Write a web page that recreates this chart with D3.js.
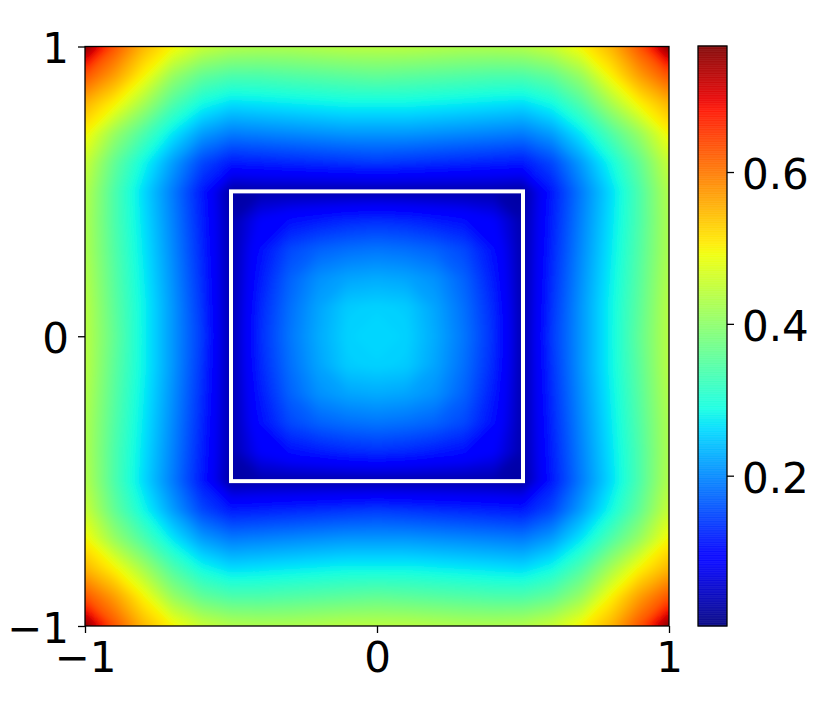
<!DOCTYPE html>
<html>
<head>
<meta charset="utf-8">
<script src="https://cdn.jsdelivr.net/npm/d3@7"></script>
<style>
  body { margin: 0; background: #fff; }
  text { font-family: "DejaVu Sans", sans-serif; }
</style>
</head>
<body>
<script>
"use strict";

// |x| and |y| sample positions of the read-off grid (the field is mirrored into all four quadrants)
const gridAbs = [0, 0.1, 0.2, 0.3, 0.4, 0.5, 0.6, 0.7, 0.8, 0.9, 1];

// field values, rows = |y|, columns = |x|
const quadrant = [
    [0.26, 0.255, 0.225, 0.185, 0.13, 0.03, 0.14, 0.21, 0.28, 0.36, 0.44],
    [0.255, 0.25, 0.22, 0.18, 0.125, 0.03, 0.135, 0.21, 0.28, 0.355, 0.44],
    [0.225, 0.22, 0.205, 0.17, 0.115, 0.03, 0.13, 0.205, 0.275, 0.35, 0.435],
    [0.185, 0.18, 0.17, 0.15, 0.105, 0.03, 0.125, 0.20, 0.27, 0.345, 0.43],
    [0.13, 0.125, 0.115, 0.105, 0.085, 0.03, 0.12, 0.195, 0.265, 0.34, 0.43],
    [0.03, 0.03, 0.03, 0.03, 0.03, 0.025, 0.115, 0.19, 0.26, 0.34, 0.435],
    [0.14, 0.135, 0.13, 0.125, 0.12, 0.115, 0.15, 0.215, 0.285, 0.36, 0.455],
    [0.21, 0.21, 0.205, 0.20, 0.195, 0.19, 0.215, 0.27, 0.34, 0.41, 0.50],
    [0.28, 0.28, 0.275, 0.27, 0.265, 0.26, 0.285, 0.34, 0.42, 0.50, 0.55],
    [0.36, 0.355, 0.35, 0.345, 0.34, 0.34, 0.36, 0.41, 0.50, 0.57, 0.63],
    [0.44, 0.44, 0.435, 0.43, 0.43, 0.435, 0.455, 0.50, 0.55, 0.63, 0.77]
];

const xTicks = [-1, 0, 1];
const yTicks = [-1, 0, 1];
const colorbarTicks = [0.2, 0.4, 0.6];
const colorRange = [0.002, 0.766];
const innerSquare = [-0.5, 0.5];

(function(){
    const size = { width: 830, height: 711 };
    const plot = { left: 85, right: 669, top: 46.5, bottom: 626 };
    const cbar = { left: 698, right: 727, top: 46, bottom: 626 };
    const fontSize = 42;
    const tickLen = 7;

    const svg = d3.select('body').append('svg')
        .attr('width', size.width)
        .attr('height', size.height);

    // jet colormap, channel by channel
    const jetR = d3.scaleLinear().domain([0, 0.35, 0.66, 0.89, 1]).range([0, 0, 1, 1, 0.5]).clamp(true);
    const jetG = d3.scaleLinear().domain([0, 0.125, 0.375, 0.64, 0.91, 1]).range([0, 0, 1, 1, 0, 0]).clamp(true);
    const jetB = d3.scaleLinear().domain([0, 0.11, 0.34, 0.65, 1]).range([0.5, 1, 1, 0, 0]).clamp(true);
    const norm = d3.scaleLinear().domain(colorRange).range([0, 1]).clamp(true);
    const jet = function(v) {
        const t = norm(v);
        return d3.rgb(255 * jetR(t), 255 * jetG(t), 255 * jetB(t)).toString();
    };

    const x = d3.scaleLinear().domain([-1, 1]).range([plot.left, plot.right]);
    const y = d3.scaleLinear().domain([-1, 1]).range([plot.bottom, plot.top]);

    // full grid from -1 to 1, top row first
    const axisVals = gridAbs.slice(1).reverse().map((v) => -v).concat(gridAbs);
    const n = axisVals.length;
    const values = [];
    for (let j = 0; j < n; j++) {
        const yv = axisVals[n - 1 - j];
        for (let i = 0; i < n; i++) {
            const xv = axisVals[i];
            values.push(quadrant[gridAbs.indexOf(Math.abs(yv))][gridAbs.indexOf(Math.abs(xv))]);
        }
    }

    // contour grid coords -> pixels (grid value i sits at i + 0.5)
    const gx = d3.scaleLinear().domain([0.5, n - 0.5]).range([x(-1), x(1)]);
    const gy = d3.scaleLinear().domain([0.5, n - 0.5]).range([y(1), y(-1)]);
    const path = d3.geoPath(d3.geoTransform({
        point: function(px, py) { this.stream.point(gx(px), gy(py)); }
    }));

    const step = 0.004;
    const thresholds = d3.range(0, 0.78, step);
    const contours = d3.contours().size([n, n]).thresholds(thresholds)(values);

    const defs = svg.append('defs');
    defs.append('clipPath').attr('id', 'plotClip')
        .append('rect')
        .attr('x', plot.left).attr('y', plot.top)
        .attr('width', plot.right - plot.left).attr('height', plot.bottom - plot.top);
    defs.append('filter').attr('id', 'soften')
        .attr('filterUnits', 'userSpaceOnUse')
        .attr('x', 0).attr('y', 0).attr('width', size.width).attr('height', size.height)
        .append('feGaussianBlur').attr('stdDeviation', 3);

    svg.append('g')
        .attr('clip-path', 'url(#plotClip)')
        .append('g')
        .attr('filter', 'url(#soften)')
        .selectAll('path')
        .data(contours)
        .enter()
        .append('path')
            .attr('d', path)
            .attr('fill', (d) => jet(d.value + step / 2))
            .attr('stroke', (d) => jet(d.value + step / 2))
            .attr('stroke-width', 0.6);

    // white square
    svg.append('rect')
        .attr('x', x(innerSquare[0]))
        .attr('y', y(innerSquare[1]))
        .attr('width', x(innerSquare[1]) - x(innerSquare[0]))
        .attr('height', y(innerSquare[0]) - y(innerSquare[1]))
        .attr('fill', 'none')
        .attr('stroke', '#fff')
        .attr('stroke-width', 4);

    // axes
    const minusFmt = (d) => d < 0 ? '\u2212' + Math.abs(d) : String(d);
    const xAxis = d3.axisBottom(x).tickValues(xTicks).tickSize(tickLen).tickPadding(9).tickFormat(minusFmt);
    const yAxis = d3.axisLeft(y).tickValues(yTicks).tickSize(tickLen).tickPadding(9).tickFormat(minusFmt);

    const gX = svg.append('g').attr('transform', `translate(0,${plot.bottom})`).call(xAxis);
    const gY = svg.append('g').attr('transform', `translate(${plot.left},0)`).call(yAxis);
    [gX, gY].forEach((g) => {
        g.select('.domain').remove();
        g.selectAll('.tick line').attr('stroke', '#000').attr('stroke-width', 1.3);
        g.selectAll('.tick text').attr('fill', '#000')
            .style('font-family', '"DejaVu Sans", sans-serif')
            .style('font-size', fontSize + 'px');
    });
    gY.selectAll('.tick text').attr('dy', '0.39em');

    svg.append('rect')
        .attr('x', plot.left).attr('y', plot.top)
        .attr('width', plot.right - plot.left).attr('height', plot.bottom - plot.top)
        .attr('fill', 'none').attr('stroke', '#000').attr('stroke-width', 1.3);

    // colorbar
    const cy = d3.scaleLinear().domain(colorRange).range([cbar.bottom, cbar.top]);
    const slices = 256;
    const sliceH = (colorRange[1] - colorRange[0]) / slices;
    const sliceVals = d3.range(slices).map((k) => colorRange[0] + sliceH * k);
    svg.append('g')
        .selectAll('rect')
        .data(sliceVals)
        .enter()
        .append('rect')
            .attr('x', cbar.left)
            .attr('y', (d) => cy(d + sliceH) - 0.3)
            .attr('width', cbar.right - cbar.left)
            .attr('height', (d) => cy(d) - cy(d + sliceH) + 0.6)
            .attr('fill', (d) => jet(d + sliceH / 2))
            .attr('fill-opacity', 0.9);

    svg.append('rect')
        .attr('x', cbar.left).attr('y', cbar.top)
        .attr('width', cbar.right - cbar.left).attr('height', cbar.bottom - cbar.top)
        .attr('fill', 'none').attr('stroke', '#000').attr('stroke-width', 1.3);

    const cAxis = d3.axisRight(cy).tickValues(colorbarTicks).tickSize(tickLen).tickPadding(8)
        .tickFormat(d3.format('.1f'));
    const gC = svg.append('g').attr('transform', `translate(${cbar.right},0)`).call(cAxis);
    gC.select('.domain').remove();
    gC.selectAll('.tick line').attr('stroke', '#000').attr('stroke-width', 1.3);
    gC.selectAll('.tick text').attr('fill', '#000')
        .attr('dy', '0.39em')
        .style('font-family', '"DejaVu Sans", sans-serif')
        .style('font-size', fontSize + 'px');
})();
</script>
</body>
</html>
